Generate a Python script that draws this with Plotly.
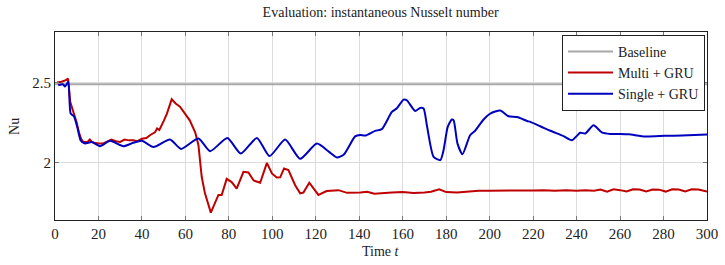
import plotly.graph_objects as go

# Time axis samples and values
t_multi = [1, 3, 5, 6, 7, 8, 9, 10, 11, 12, 13, 15, 16, 17, 18, 20, 22, 24, 26, 28, 30, 32, 34, 36, 38,
           40, 42, 44, 46, 47, 48, 50, 51.5, 53.7, 55.5, 57.5, 59.8, 62, 64.5, 66, 67.5, 69, 71.7, 73.7,
           75.2, 76.7, 79, 81.3, 83.6, 86.7, 89, 91.4, 94.4, 97.5, 99.8, 102, 103.6, 105.4, 107.4, 110.5,
           112.8, 114.3, 117, 121.2, 125, 130.4, 134.4, 140.5, 143.6, 147, 150, 155, 160, 165, 170, 173,
           176.8, 180, 185, 190, 195, 200, 205, 210, 215, 220, 225, 230, 235, 240, 244, 248, 251, 254, 257,
           260, 263, 266, 269, 272, 275, 278, 281, 284, 287, 290, 293, 296, 300]
nu_multi = [2.500, 2.505, 2.515, 2.525, 2.38, 2.34, 2.30, 2.25, 2.19, 2.15, 2.13, 2.13, 2.145, 2.13, 2.125,
            2.12, 2.12, 2.13, 2.145, 2.135, 2.13, 2.145, 2.14, 2.14, 2.135, 2.150, 2.155, 2.175, 2.19,
            2.214, 2.205, 2.26, 2.307, 2.396, 2.37, 2.35, 2.31, 2.265, 2.19, 2.11, 1.913, 1.81, 1.69, 1.757,
            1.80, 1.80, 1.90, 1.88, 1.84, 1.944, 1.94, 1.89, 1.876, 2.0, 1.934, 1.909, 1.91, 1.965, 1.955,
            1.861, 1.81, 1.815, 1.876, 1.80, 1.824, 1.83, 1.813, 1.815, 1.82, 1.808, 1.812, 1.815, 1.818,
            1.812, 1.816, 1.82, 1.835, 1.818, 1.815, 1.822, 1.826, 1.826, 1.828, 1.826, 1.828, 1.828, 1.83,
            1.826, 1.83, 1.826, 1.83, 1.826, 1.834, 1.82, 1.835, 1.83, 1.822, 1.836, 1.834, 1.822, 1.834,
            1.833, 1.821, 1.835, 1.834, 1.822, 1.836, 1.834, 1.822, 1.836]

t_single = [1.5, 3.6, 4.6, 6.1, 7.2, 8.7, 10.3, 11.8, 13.8, 16.9, 20.7, 25.3, 31.5, 36, 40, 45.3, 52.9, 58,
            66, 71.4, 79.3, 85.5, 92.9, 98.7, 105.9, 112.8, 120.5, 126, 129.7, 132.8, 138.1, 140.4, 142.7,
            147.3, 150.4, 155, 157.3, 160.4, 161.9, 165.7, 168, 169.6, 171.1, 174.2, 177.3, 178.8, 180.7,
            182.6, 183.4, 185.2, 187.5, 191, 193.3, 197.2, 200.3, 204.9, 208.7, 212.6, 217.2, 218.7, 223.3,
            227.9, 234, 237.9, 241.7, 244, 247.8, 251.6, 255.5, 260.1, 264, 271.6, 280.8, 288.5, 300]
nu_single = [2.483, 2.49, 2.475, 2.505, 2.307, 2.29, 2.22, 2.14, 2.12, 2.13, 2.104, 2.137, 2.104, 2.125,
             2.137, 2.098, 2.145, 2.087, 2.152, 2.073, 2.155, 2.058, 2.155, 2.042, 2.145, 2.025, 2.12,
             2.07, 2.034, 2.05, 2.165, 2.174, 2.17, 2.199, 2.21, 2.317, 2.34, 2.394, 2.39, 2.323, 2.342,
             2.338, 2.234, 2.037, 2.017, 2.08, 2.224, 2.27, 2.266, 2.12, 2.054, 2.172, 2.2, 2.27, 2.307,
             2.326, 2.29, 2.285, 2.261, 2.255, 2.228, 2.2, 2.166, 2.141, 2.187, 2.183, 2.234, 2.19, 2.18,
             2.18, 2.178, 2.164, 2.168, 2.17, 2.176]

baseline_value = 2.49
x_range = [0, 300]
y_range = [1.644, 2.815]
x_ticks = [0, 20, 40, 60, 80, 100, 120, 140, 160, 180, 200, 220, 240, 260, 280, 300]
y_ticks = [2, 2.5]
y_ticklabels = ["2", "2.5"]

FONT = "Times New Roman"

fig = go.Figure()
fig.add_trace(go.Scatter(x=x_range, y=[baseline_value, baseline_value], mode="lines",
                         name="Baseline", line=dict(color="#a8a8a8", width=2)))
fig.add_trace(go.Scatter(x=t_multi, y=nu_multi, mode="lines", name="Multi + GRU",
                         line=dict(color="#bf0000", width=2)))
fig.add_trace(go.Scatter(x=t_single, y=nu_single, mode="lines", name="Single + GRU",
                         line=dict(color="#0000bf", width=2, shape="spline", smoothing=0.6)))

fig.update_layout(
    width=725, height=265,
    margin=dict(l=55, r=18, t=32, b=45),
    paper_bgcolor="white", plot_bgcolor="white",
    font=dict(family=FONT, size=15, color="#222"),
    title=dict(text="Evaluation: instantaneous Nusselt number", x=0.525, xanchor="center",
               y=0.955, yanchor="middle", font=dict(family=FONT, size=14, color="#222")),
    legend=dict(x=0.997, y=0.985, xanchor="right", yanchor="top", bgcolor="white",
                bordercolor="#222", borderwidth=1, font=dict(family=FONT, size=14),
                tracegroupgap=0, itemwidth=45),
    showlegend=True,
    annotations=[
        dict(text="Time <i>t</i>", xref="paper", yref="paper", x=0.5, y=-0.17,
             xanchor="center", yanchor="middle", showarrow=False,
             font=dict(family=FONT, size=14, color="#222")),
        dict(text="Nu", xref="paper", yref="paper", x=-0.063, y=0.5, textangle=-90,
             xanchor="center", yanchor="middle", showarrow=False,
             font=dict(family=FONT, size=14, color="#222")),
    ],
)
fig.update_xaxes(range=x_range, tickvals=x_ticks, showgrid=True, gridcolor="#dcdcdc", gridwidth=1,
                 showline=True, linecolor="#222", linewidth=1, mirror="ticks", ticks="inside",
                 ticklen=4, tickcolor="#777", zeroline=False, automargin=False)
fig.update_yaxes(range=y_range, tickvals=y_ticks, ticktext=y_ticklabels, showgrid=True,
                 gridcolor="#dcdcdc", gridwidth=1, showline=True, linecolor="#222", linewidth=1,
                 mirror="ticks", ticks="inside", ticklen=4, tickcolor="#777", zeroline=False,
                 automargin=False)

fig.write_html("out.html")
